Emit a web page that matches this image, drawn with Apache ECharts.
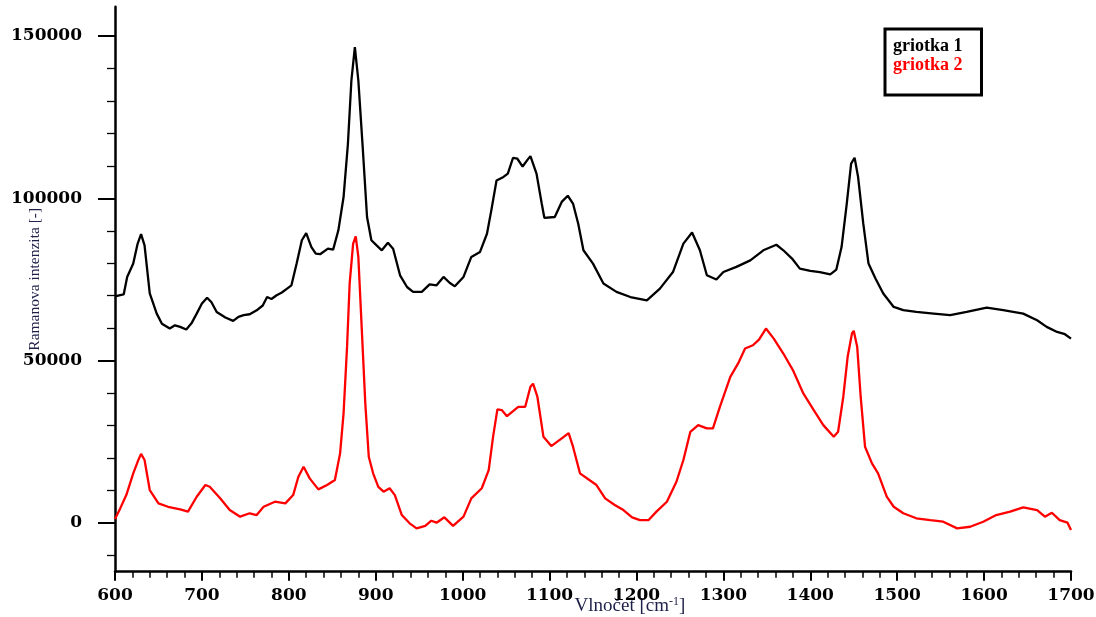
<!DOCTYPE html>
<html>
<head>
<meta charset="utf-8">
<script src="https://cdn.jsdelivr.net/npm/echarts@6/dist/echarts.min.js"></script>
<style>
  html, body { margin: 0; padding: 0; background: #fff; }
  #chart { width: 1096px; height: 617px; }
</style>
</head>
<body>
<div id="chart"></div>
<script>
// Raman spectra of two cherry samples (wavenumber in cm^-1, intensity in counts)
const g1Wave = [600,606,610,614,621,626,630,634,640,648,654,663,669,675,682,688,694,700,706,711,717,727,736,742,748,755,763,770,775,780,786,792,798,803,809,815,820,826,831,836,845,851,857,863,868,872,876,878,880,885,890,895,901,907,914,920,928,936,943,953,962,970,978,985,991,1001,1010,1020,1028,1033,1039,1047,1052,1058,1063,1069,1075,1078,1085,1091,1094,1106,1114,1121,1127,1133,1139,1150,1162,1177,1193,1212,1227,1242,1254,1264,1273,1281,1292,1300,1315,1331,1346,1361,1369,1379,1388,1400,1411,1423,1430,1436,1442,1447,1451,1455,1461,1467,1475,1484,1496,1507,1522,1542,1561,1580,1603,1622,1645,1661,1672,1684,1693,1700];
const g1Int = [69800,70200,70400,75800,79900,86000,89000,85500,70700,64500,61400,59900,60900,60400,59600,61500,64500,67600,69400,68000,65000,63300,62250,63500,64000,64300,65500,67000,69600,69000,70150,71000,72200,73200,79900,87100,89300,85000,83000,82800,84500,84200,90150,100400,116800,136300,146600,146000,136300,115800,94250,87100,85500,84000,86300,84500,76300,72700,71200,71200,73500,73200,75800,74000,72900,75800,81950,83500,89100,96300,105500,106600,107600,112500,112200,109800,112000,113000,107600,98400,94000,94250,98900,100800,98400,92200,84000,79900,73750,71200,69600,68600,72200,77300,86050,89500,84000,76300,75000,77300,78900,80900,84000,85700,84000,81450,78350,77650,77300,76600,78050,85000,98400,110700,112500,106600,92200,79900,75300,70700,66550,65550,65000,64500,64000,65000,66350,65550,64500,62450,60400,58850,58150,56800];

const g2Wave = [600,606,613,621,627,630,634,640,650,661,675,684,694,704,709,721,732,744,755,763,771,784,796,805,811,817,824,834,844,853,859,863,867,870,874,877,880,884,888,892,897,903,909,916,922,930,939,947,957,964,970,979,989,1001,1010,1022,1030,1035,1040,1045,1051,1064,1072,1078,1081,1086,1093,1102,1114,1122,1127,1135,1147,1154,1164,1175,1185,1195,1204,1214,1223,1235,1246,1254,1262,1271,1281,1288,1296,1308,1317,1325,1334,1341,1349,1358,1369,1380,1392,1404,1415,1427,1432,1438,1443,1448,1450,1454,1458,1463,1471,1478,1488,1496,1507,1522,1538,1553,1569,1584,1599,1614,1630,1645,1661,1670,1678,1687,1696,1700];
const g2Int = [1200,4500,8600,15300,19500,21300,19400,10150,6050,5000,4200,3500,8100,11700,11150,7600,4000,1950,3000,2450,5000,6550,6050,8600,14250,17300,13750,10350,11700,13250,21450,33750,54250,73750,86050,88300,81950,59400,36850,20400,15300,11150,9650,10700,8600,2450,-100,-1650,-900,700,100,1750,-900,1950,7600,10700,16300,26550,35000,34800,32900,35800,35800,41950,42900,38900,26550,23700,26050,27700,23500,15300,13000,11700,7600,5550,4000,1750,900,900,3500,6550,12700,19400,28100,30150,29150,29150,35800,45000,49150,53750,54750,56500,59900,56800,52200,47100,39900,34800,30150,26550,28100,38900,51200,58400,59200,54250,38900,23500,18350,15300,8100,5000,3000,1450,900,400,-1650,-1150,400,2450,3500,4800,4000,1950,3150,900,100,-2150];

const seriesNames = ['griotka 1', 'griotka 2'];

// Axis ranges and ticks
const X_MIN = 600, X_MAX = 1700, X_STEP = 100, X_MINOR_SPLIT = 5;
const Y_MIN = -15000, Y_MAX = 159000;
const yMajorTicks = [0, 50000, 100000, 150000];
const yMinorTicks = [];
for (let v = -10000; v <= 150000; v += 10000) if (v % 50000 !== 0) yMinorTicks.push(v);

const zip = (xs, ys) => xs.map((x, i) => [x, ys[i]]);
const plain = v => String(v);

const tickFont = { fontFamily: 'DejaVu Serif', fontWeight: 'bold', fontSize: 17, color: '#000', formatter: plain };
const nameColor = '#1e2048';

const chart = echarts.init(document.getElementById('chart'), null, { renderer: 'canvas' });
chart.setOption({
  animation: false,
  backgroundColor: '#fff',
  grid: { left: 115, right: 25, top: 6.8, bottom: 45.3, containLabel: false, outerBoundsMode: 'none' },
  legend: {
    left: 885, top: 29,
    orient: 'vertical',
    selectedMode: false,
    icon: 'none',
    itemWidth: 0, itemHeight: 14, itemGap: 1,
    padding: [8, 19, 21, 3],
    borderColor: '#000', borderWidth: 3,
    backgroundColor: '#fff',
    textStyle: { fontFamily: 'Liberation Serif', fontWeight: 'bold', fontSize: 18, lineHeight: 17 },
    data: [
      { name: seriesNames[0], textStyle: { color: '#000' } },
      { name: seriesNames[1], textStyle: { color: '#ff0000' } }
    ]
  },
  xAxis: {
    type: 'value', min: X_MIN, max: X_MAX, interval: X_STEP, position: 'bottom',
    name: '{a|Vlnočet [cm}{s|-1}{a|]}',
    nameLocation: 'middle', nameGap: 24, nameMoveOverlap: false,
    nameTextStyle: {
      padding: [0, 0, 0, 74],
      rich: {
        a: { fontFamily: 'Liberation Serif', fontSize: 19, color: nameColor, lineHeight: 20 },
        s: { fontFamily: 'Liberation Serif', fontSize: 12, color: nameColor, lineHeight: 12, verticalAlign: 'top' }
      }
    },
    axisLine: { show: true, onZero: false, lineStyle: { color: '#000', width: 2.5 } },
    axisTick: { show: true, length: 9, lineStyle: { color: '#000', width: 2 } },
    minorTick: { show: true, splitNumber: X_MINOR_SPLIT, length: 6, lineStyle: { color: '#000', width: 1.5 } },
    axisLabel: { show: true, margin: 15, ...tickFont },
    splitLine: { show: false },
    minorSplitLine: { show: false }
  },
  yAxis: [
    {
      type: 'value', min: Y_MIN, max: Y_MAX, position: 'left',
      name: 'Ramanova intenzita [-]',
      nameLocation: 'middle', nameRotate: 90, nameGap: 72, nameMoveOverlap: false,
      nameTextStyle: { fontFamily: 'Liberation Serif', fontSize: 15.5, color: nameColor, padding: [0, 0, 0, 20] },
      axisLine: { show: true, onZero: false, lineStyle: { color: '#000', width: 2.5 } },
      axisTick: { show: true, customValues: yMajorTicks, length: 17, lineStyle: { color: '#000', width: 2 } },
      axisLabel: { show: true, customValues: yMajorTicks, margin: 33, ...tickFont },
      splitLine: { show: false }
    },
    {
      type: 'value', min: Y_MIN, max: Y_MAX, position: 'left',
      axisLine: { show: false, onZero: false },
      axisTick: { show: true, customValues: yMinorTicks, length: 8, lineStyle: { color: '#000', width: 1.3 } },
      axisLabel: { show: false },
      splitLine: { show: false }
    }
  ],
  series: [
    {
      name: seriesNames[0], type: 'line', xAxisIndex: 0, yAxisIndex: 0,
      data: zip(g1Wave, g1Int), showSymbol: false, symbol: 'none',
      lineStyle: { color: '#000', width: 2.3 }, itemStyle: { color: '#000' }
    },
    {
      name: seriesNames[1], type: 'line', xAxisIndex: 0, yAxisIndex: 0,
      data: zip(g2Wave, g2Int), showSymbol: false, symbol: 'none',
      lineStyle: { color: '#ff0000', width: 2.3 }, itemStyle: { color: '#ff0000' }
    }
  ]
});
</script>
</body>
</html>
